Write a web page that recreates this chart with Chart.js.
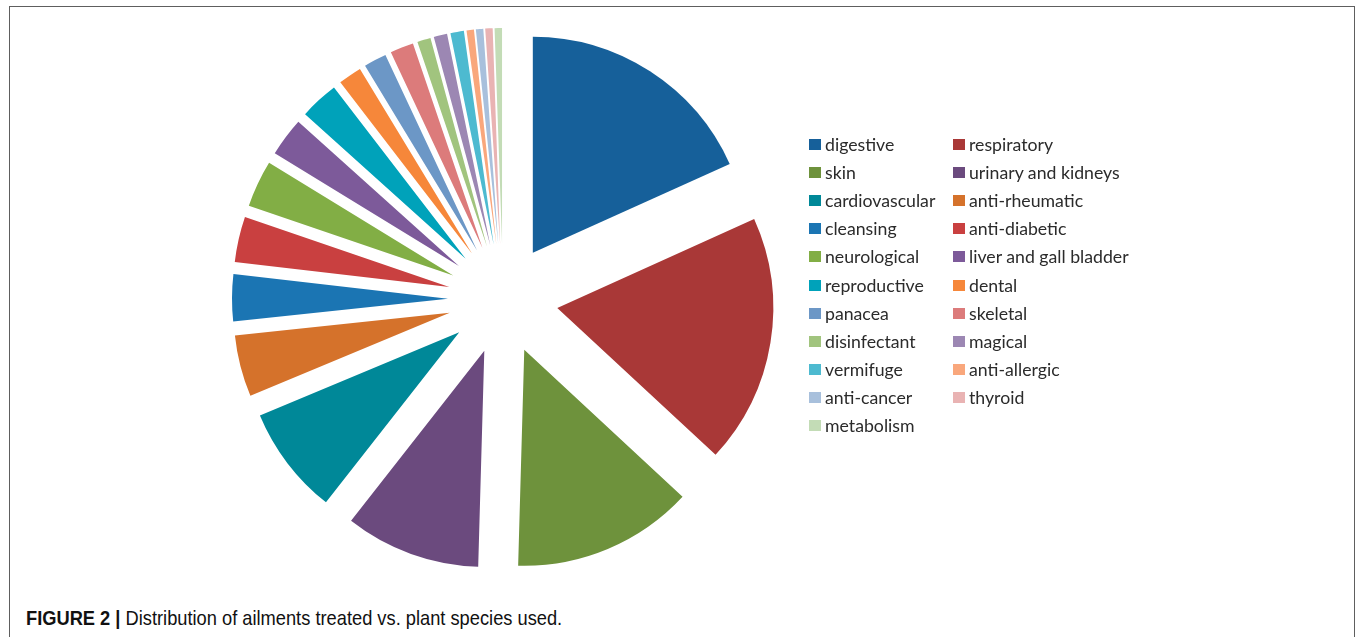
<!DOCTYPE html>
<html>
<head>
<meta charset="utf-8">
<script src="https://cdn.jsdelivr.net/npm/chart.js@4.4.1/dist/chart.umd.min.js"></script>
<style>
  html, body { margin: 0; padding: 0; background: #fff; overflow: hidden; }
  body { width: 1357px; height: 637px; position: relative; }
  #frame {
    position: absolute; left: 9px; top: 6px; width: 1344px; height: 700px;
    border: 1px solid #5e5e5e;
  }
  #chartBox { position: absolute; left: 0; top: 0; width: 1006px; height: 598px; }
  #legend {
    position: absolute; left: 809px; top: 130px;
    display: grid; grid-template-columns: 144px 200px; grid-auto-rows: 28.2px;
    font-family: Lato, "Open Sans", sans-serif; font-size: 17.7px; color: #2b2b2b;
  }
  .item { display: flex; align-items: center; height: 28.2px; white-space: nowrap; }
  .swatch { width: 12px; height: 11px; margin-right: 4px; flex: none; }
  #caption {
    position: absolute; left: 26px; top: 607px; line-height: 21px;
    font-family: "Liberation Sans", Arial, sans-serif;
    font-size: 21px; color: #111; white-space: nowrap;
    transform: scaleX(0.87); transform-origin: 0 0;
  }
  #caption b { font-weight: bold; }
</style>
</head>
<body>
<div id="frame"></div>
<div id="chartBox"><canvas id="pieChart"></canvas></div>
<div id="legend"></div>
<div id="caption"><b>FIGURE 2 |</b> Distribution of ailments treated vs. plant species used.</div>
<script>
const ailments = [
  "digestive", "respiratory", "skin", "urinary and kidneys", "cardiovascular",
  "anti-rheumatic", "cleansing", "anti-diabetic", "neurological", "liver and gall bladder",
  "reproductive", "dental", "panacea", "skeletal", "disinfectant",
  "magical", "vermifuge", "anti-allergic", "anti-cancer", "thyroid", "metabolism"
];

// share of plant species per ailment (%)
const shares = [
  18.2, 18.6, 13.5, 10.1, 8.1,
  4.6, 3.5, 3.4, 3.5, 2.9,
  2.9, 1.75, 1.7, 1.75, 1.0,
  1.0, 1.0, 0.55, 0.55, 0.55, 0.55
];

const colors = [
  "#16609a", "#a93837", "#6e923c", "#6b4a7e", "#008898",
  "#d5722b", "#1b75b3", "#c94040", "#82ae45", "#7d5a9a",
  "#00a2ba", "#f6873a", "#6c97c6", "#dc7b7b", "#a1c47e",
  "#9c87b3", "#4dbad0", "#f9a77c", "#a8c0dc", "#e9b3b3", "#c3dcb6"
];

const EXPLODE = 55;

// Excel-style point explosion: move every slice out along its bisector
// (Chart.js' own `offset` also shrinks the arcs, which kills the thin ones)
const explodePlugin = {
  id: "explode",
  afterDatasetUpdate(chart, args) {
    for (const arc of args.meta.data) {
      const mid = (arc.startAngle + arc.endAngle) / 2;
      arc.x += Math.cos(mid) * EXPLODE;
      arc.y += Math.sin(mid) * EXPLODE;
    }
  }
};

function buildLegend(chart) {
  const box = document.getElementById("legend");
  const items = chart.options.plugins.legend.labels.generateLabels(chart);
  box.innerHTML = items.map(it =>
    `<div class="item"><span class="swatch" style="background:${it.fillStyle}"></span>${it.text}</div>`
  ).join("");
}

const pie = new Chart(document.getElementById("pieChart"), {
  type: "pie",
  data: {
    labels: ailments,
    datasets: [{
      data: shares,
      backgroundColor: colors,
      borderWidth: 0
    }]
  },
  options: {
    responsive: true,
    maintainAspectRatio: false,
    animation: false,
    radius: 216,
    layout: { padding: 0 },
    plugins: {
      legend: { display: false },
      tooltip: { enabled: false }
    }
  },
  plugins: [explodePlugin]
});

buildLegend(pie);
</script>
</body>
</html>
